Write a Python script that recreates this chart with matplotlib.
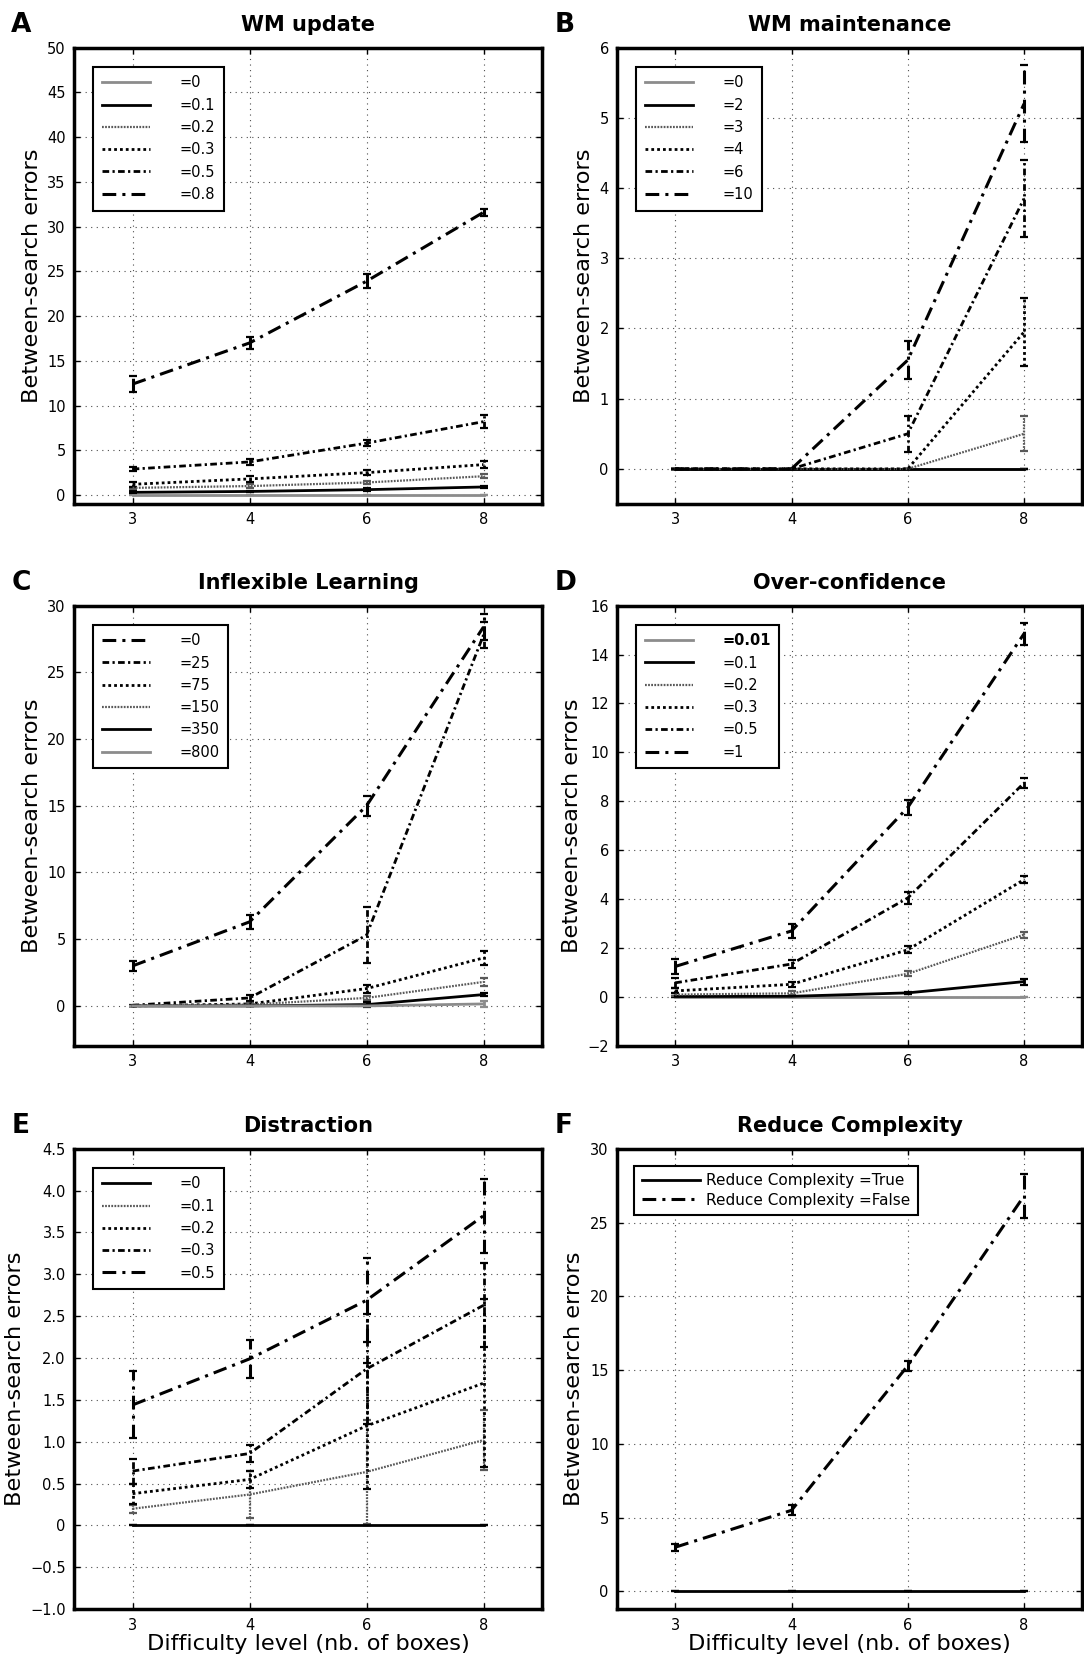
import numpy as np
import matplotlib
matplotlib.use("Agg")
import matplotlib.pyplot as plt
from matplotlib.ticker import FuncFormatter, MultipleLocator

plt.rcParams['font.family'] = ['DejaVu Sans']

levels = ['3', '4', '6', '8']

# ---- Panel A: WM update ----
a_labels = ['=0', '=0.1', '=0.2', '=0.3', '=0.5', '=0.8']
a_vals = [[0, 0, 0, 0],
          [0.3, 0.4, 0.6, 0.9],
          [0.8, 1.0, 1.4, 2.1],
          [1.2, 1.8, 2.5, 3.4],
          [2.9, 3.7, 5.8, 8.2],
          [12.4, 17.0, 23.9, 31.6]]
a_errs = [[0, 0, 0, 0],
          [0.1, 0.1, 0.15, 0.15],
          [0.15, 0.2, 0.2, 0.2],
          [0.3, 0.3, 0.3, 0.35],
          [0.2, 0.35, 0.35, 0.7],
          [0.9, 0.65, 0.75, 0.4]]

# ---- Panel B: WM maintenance ----
b_labels = ['=0', '=2', '=3', '=4', '=6', '=10']
b_vals = [[0, 0, 0, 0],
          [0, 0, 0, 0],
          [0, 0, 0, 0.5],
          [0, 0, 0, 1.95],
          [0, 0, 0.5, 3.85],
          [0, 0, 1.55, 5.2]]
b_errs = [[0, 0, 0, 0],
          [0, 0, 0, 0],
          [0, 0, 0, 0.25],
          [0, 0, 0, 0.48],
          [0, 0, 0.26, 0.55],
          [0, 0, 0.27, 0.55]]

# ---- Panel C: Inflexible Learning ----
c_labels = ['=0', '=25', '=75', '=150', '=350', '=800']
c_vals = [[3.0, 6.3, 15.0, 28.4],
          [0.05, 0.6, 5.3, 27.8],
          [0.0, 0.15, 1.3, 3.6],
          [0.0, 0.1, 0.6, 1.8],
          [0.0, 0.0, 0.1, 0.85],
          [0.0, 0.0, 0.0, 0.15]]
c_errs = [[0.4, 0.55, 0.75, 1.0],
          [0.05, 0.2, 2.1, 1.0],
          [0.0, 0.1, 0.3, 0.55],
          [0.0, 0.1, 0.15, 0.3],
          [0.0, 0.0, 0.2, 0.1],
          [0.0, 0.0, 0.0, 0.25]]

# ---- Panel D: Over-confidence ----
d_labels = ['=0.01', '=0.1', '=0.2', '=0.3', '=0.5', '=1']
d_vals = [[0, 0, 0, 0],
          [0.02, 0.03, 0.17, 0.63],
          [0.1, 0.15, 0.95, 2.55],
          [0.25, 0.52, 1.93, 4.8],
          [0.58, 1.35, 4.05, 8.75],
          [1.25, 2.7, 7.75, 14.85]]
d_errs = [[0, 0, 0, 0],
          [0.02, 0.03, 0.05, 0.12],
          [0.05, 0.08, 0.1, 0.12],
          [0.1, 0.1, 0.15, 0.15],
          [0.2, 0.15, 0.25, 0.2],
          [0.3, 0.3, 0.3, 0.45]]

# ---- Panel E: Distraction ----
e_labels = ['=0', '=0.1', '=0.2', '=0.3', '=0.5']
e_vals = [[0, 0, 0, 0],
          [0.2, 0.37, 0.64, 1.02],
          [0.38, 0.55, 1.19, 1.70],
          [0.65, 0.86, 1.87, 2.63],
          [1.44, 1.99, 2.69, 3.70]]
e_errs = [[0, 0, 0, 0],
          [0.05, 0.28, 0.62, 0.36],
          [0.12, 0.1, 0.75, 1.0],
          [0.15, 0.1, 0.66, 0.5],
          [0.4, 0.23, 0.5, 0.44]]

# ---- Panel F: Reduce Complexity ----
f_labels = ['Reduce Complexity =True', 'Reduce Complexity =False']
f_vals = [[0, 0, 0, 0],
          [3.0, 5.5, 15.3, 26.8]]
f_errs = [[0, 0, 0, 0],
          [0.25, 0.35, 0.35, 1.5]]

# ---- styles ----
ST_GRAY = dict(color='0.55', ls='-', lw=2.0)
ST_SOLID = dict(color='k', ls='-', lw=2.0)
ST_FINE = dict(color='0.35', ls=(0, (0.8, 0.6)), lw=1.6)
ST_DOT = dict(color='k', ls=(0, (1.0, 1.1)), lw=2.0)
ST_DD = dict(color='k', ls=(0, (2.4, 1.2, 0.8, 1.2)), lw=2.0)
ST_DASHDOT = dict(color='k', ls=(0, (4.5, 2.0, 1.0, 2.0)), lw=2.2)

panels = [
    dict(letter='A', title='WM update', labels=a_labels, vals=a_vals, errs=a_errs,
         styles=[ST_GRAY, ST_SOLID, ST_FINE, ST_DOT, ST_DD, ST_DASHDOT],
         ylim=(-1, 50), ystep=5, dec=False, rect=[0.0684, 0.6964, 0.4316, 0.2749]),
    dict(letter='B', title='WM maintenance', labels=b_labels, vals=b_vals, errs=b_errs,
         styles=[ST_GRAY, ST_SOLID, ST_FINE, ST_DOT, ST_DD, ST_DASHDOT],
         ylim=(-0.5, 6), ystep=1, dec=False, rect=[0.5693, 0.6964, 0.4290, 0.2749]),
    dict(letter='C', title='Inflexible Learning', labels=c_labels, vals=c_vals, errs=c_errs,
         styles=[ST_DASHDOT, ST_DD, ST_DOT, ST_FINE, ST_SOLID, ST_GRAY],
         ylim=(-3, 30), ystep=5, dec=False, rect=[0.0684, 0.3699, 0.4316, 0.2653]),
    dict(letter='D', title='Over-confidence', labels=d_labels, vals=d_vals, errs=d_errs,
         styles=[ST_GRAY, ST_SOLID, ST_FINE, ST_DOT, ST_DD, ST_DASHDOT],
         ylim=(-2, 16), ystep=2, dec=False, rect=[0.5693, 0.3699, 0.4290, 0.2653]),
    dict(letter='E', title='Distraction', labels=e_labels, vals=e_vals, errs=e_errs,
         styles=[ST_SOLID, ST_FINE, ST_DOT, ST_DD, ST_DASHDOT],
         ylim=(-1, 4.5), ystep=0.5, dec=True, rect=[0.0684, 0.0306, 0.4316, 0.2774]),
    dict(letter='F', title='Reduce Complexity', labels=f_labels, vals=f_vals, errs=f_errs,
         styles=[ST_SOLID, ST_DASHDOT],
         ylim=(-1.2, 30), ystep=5, dec=False, rect=[0.5693, 0.0306, 0.4290, 0.2774]),
]


def make_fmt(dec):
    def fmt(v, pos):
        if abs(v) < 1e-9:
            return '0'
        s = ('%.1f' % v) if dec else ('%d' % round(v))
        return s.replace('-', '\u2212')
    return fmt


fig = plt.figure(figsize=(10.84, 16.6), dpi=100)

for p in panels:
    ax = fig.add_axes(p['rect'])
    handles = []
    for lab, v, e, st in zip(p['labels'], p['vals'], p['errs'], p['styles']):
        cont = ax.errorbar(levels, v, yerr=e, capsize=3, capthick=1.6,
                           color=st['color'], ls=st['ls'], lw=st['lw'],
                           elinewidth=st['lw'], label=lab)
        for bc in cont[2]:
            bc.set_linestyle(st['ls'])
        handles.append(cont[0])
    ax.set_xlim(-0.5, 3.5)
    ax.set_ylim(*p['ylim'])
    ax.yaxis.set_major_locator(MultipleLocator(p['ystep']))
    ax.yaxis.set_major_formatter(FuncFormatter(make_fmt(p['dec'])))
    ax.grid(True, ls=(0, (1, 4)), color='0.3', lw=0.8)
    ax.set_axisbelow(True)
    for s in ax.spines.values():
        s.set_linewidth(2.5)
    ax.tick_params(direction='in', top=True, right=True, labelsize=10.5,
                   length=4, width=1, pad=6)
    ax.set_title(p['title'], fontsize=15, fontweight='bold', pad=12)
    ax.set_ylabel('Between-search errors', fontsize=16.2)
    if p['letter'] in ('E', 'F'):
        ax.set_xlabel('Difficulty level (nb. of boxes)', fontsize=16.2, labelpad=1)
    if p['letter'] == 'F':
        leg = ax.legend(handles, p['labels'], loc='upper left', fontsize=11,
                        fancybox=False, framealpha=1, edgecolor='k',
                        handlelength=3.8, handletextpad=0.45,
                        borderaxespad=1.1, labelspacing=0.3, borderpad=0.5)
    else:
        leg = ax.legend(handles, p['labels'], loc='upper left', fontsize=10.5,
                        fancybox=False, framealpha=1, edgecolor='k',
                        handlelength=3.3, handletextpad=2.0,
                        borderaxespad=1.3, labelspacing=0.5, borderpad=0.6)
    leg.get_frame().set_linewidth(1.5)
    if p['letter'] == 'D':
        leg.get_texts()[0].set_fontweight('bold')
    fig.text(p['rect'][0] - 0.058, p['rect'][1] + p['rect'][3] + 0.006,
             p['letter'], fontsize=19, fontweight='bold', ha='left', va='bottom')

fig.savefig('out.png', dpi=100)
